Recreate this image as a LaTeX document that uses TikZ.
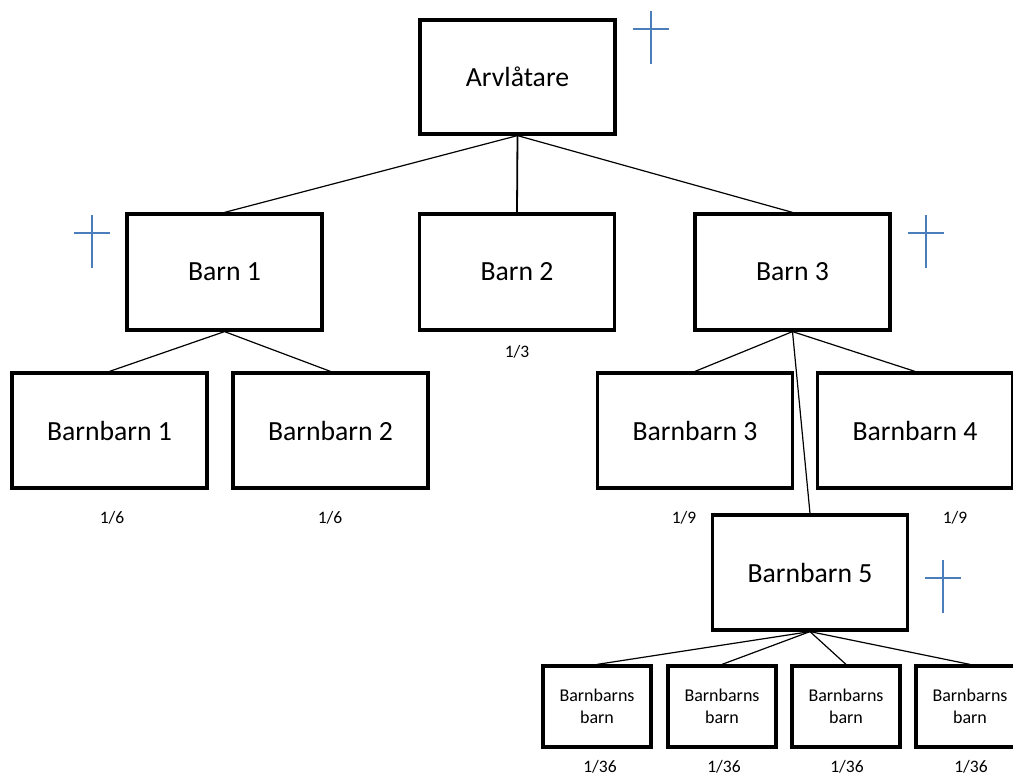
\documentclass[tikz,border=0pt]{standalone}
\usepackage{fontspec}
\setmainfont{Carlito}
\definecolor{crossblue}{HTML}{4A7EBB}
\tikzset{
  bigbox/.style={draw, line width=3.2pt, minimum width=195pt, minimum height=115pt, inner sep=0pt, font=\fontsize{27.7}{33}\selectfont},
  smallbox/.style={draw, line width=3.2pt, minimum width=108pt, minimum height=81pt, inner sep=0pt, align=center, font=\fontsize{18}{22}\selectfont},
  frac/.style={inner sep=0pt, font=\fontsize{17.5}{20}\selectfont},
  conn/.style={line width=1.2pt},
  crossline/.style={draw=crossblue, line width=1.6pt}
}
\begin{document}
\begin{tikzpicture}[x=1pt,y=-1pt]
\useasboundingbox (0,0) rectangle (1013,778);
% boxes
\node[bigbox, minimum height=114pt] (arv) at (517.5,77) {Arvlåtare};
\node[bigbox, minimum height=116pt] (b1) at (224.5,272) {Barn 1};
\node[bigbox, minimum height=116pt] (b2) at (517,272) {Barn 2};
\node[bigbox, minimum height=116pt] (b3) at (792.5,272) {Barn 3};
\node[bigbox] (bb1) at (109.5,430.5) {Barnbarn 1};
\node[bigbox] (bb2) at (330.5,430.5) {Barnbarn 2};
\node[bigbox] (bb3) at (695,430.5) {Barnbarn 3};
\node[bigbox] (bb4) at (915,430.5) {Barnbarn 4};
\node[bigbox] (bb5) at (810,572.5) {Barnbarn 5};
\node[smallbox] (bbb1) at (597,706.5) {Barnbarns\\barn};
\node[smallbox] (bbb2) at (722,706.5) {Barnbarns\\barn};
\node[smallbox] (bbb3) at (846,706.5) {Barnbarns\\barn};
\node[smallbox] (bbb4) at (970,706.5) {Barnbarns\\barn};
% connectors
\draw[conn] (arv.south) -- (b1.north);
\draw[line width=1.8pt] (arv.south) -- (b2.north);
\draw[conn] (arv.south) -- (b3.north);
\draw[conn] (b1.south) -- (bb1.north);
\draw[conn] (b1.south) -- (bb2.north);
\draw[conn] (b3.south) -- (bb3.north);
\draw[conn] (b3.south) -- (bb4.north);
\draw[conn] (b3.south) -- (bb5.north);
\draw[conn] (bb5.south) -- (bbb1.north);
\draw[conn] (bb5.south) -- (bbb2.north);
\draw[conn] (bb5.south) -- (bbb3.north);
\draw[conn] (bb5.south) -- (bbb4.north);
% fractions
\node[frac] (f2) at (517,352) {1/3};
\node[frac] (f11) at (112,518) {1/6};
\node[frac] (f12) at (330,518) {1/6};
\node[frac] (f13) at (684,518) {1/9};
\node[frac] (f14) at (955,518) {1/9};
\node[frac] (f21) at (600,767) {1/36};
\node[frac] (f22) at (724,767) {1/36};
\node[frac] (f23) at (847,767) {1/36};
\node[frac] (f24) at (971,767) {1/36};
% crosses
\draw[crossline] (651,11) -- (651,64) (633,29) -- (669,29);
\draw[crossline] (92,215) -- (92,268) (74,233) -- (110,233);
\draw[crossline] (926,215) -- (926,268) (908,233) -- (944,233);
\draw[crossline, line width=1.1pt] (943,560) -- (943,613) (925,578) -- (961,578);
\end{tikzpicture}
\end{document}
